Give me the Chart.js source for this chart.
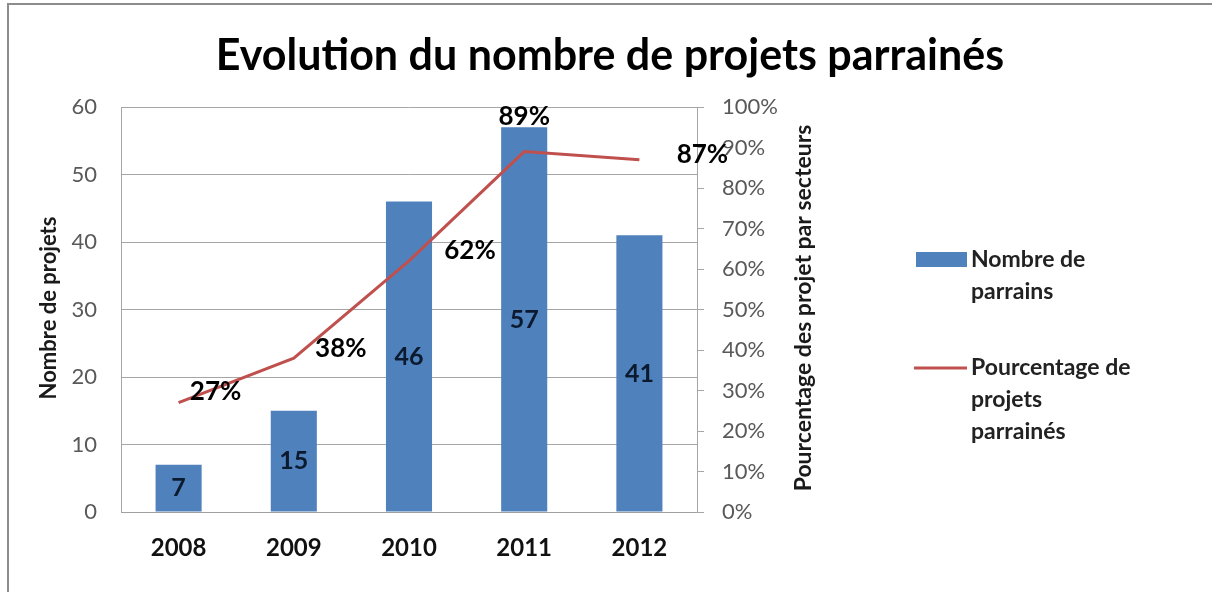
<!DOCTYPE html>
<html>
<head>
<meta charset="utf-8">
<script src="https://cdn.jsdelivr.net/npm/chart.js@4/dist/chart.umd.min.js"></script>
<style>
    html, body { margin: 0; padding: 0; background: #fff; }
    #wrap { position: relative; width: 1212px; height: 592px; }
</style>
</head>
<body>
<div id="wrap"><canvas id="chart" width="1212" height="592"></canvas></div>
<script>
// data
const years = ['2008', '2009', '2010', '2011', '2012'];
const nombreProjets = [7, 15, 46, 57, 41];
const pourcentages = [27, 38, 62, 89, 87];
const leftTicks = [0, 10, 20, 30, 40, 50, 60];
const rightTicks = [0, 10, 20, 30, 40, 50, 60, 70, 80, 90, 100];

const titleText = 'Evolution du nombre de projets parrainés';
const leftAxisTitle = 'Nombre de projets';
const rightAxisTitle = 'Pourcentage des projet par secteurs';
const legendBar = ['Nombre de', 'parrains'];
const legendLine = ['Pourcentage de', 'projets', 'parrainés'];

// label offsets for the percentage labels (px from the point)
const pctLabelOffset = [[37, -11], [47, -9], [61, -10], [0, -35], [63, -5]];

const FONT = 'Lato, "Open Sans", sans-serif';
const BLUE = '#4f81bd';
const RED = '#c0504d';

const decorPlugin = {
    id: 'decor',
    beforeDraw(chart) {
        const ctx = chart.ctx;
        ctx.save();
        ctx.fillStyle = '#fff';
        ctx.fillRect(0, 0, chart.width, chart.height);
        // frame
        ctx.strokeStyle = '#8c8c8c';
        ctx.lineWidth = 2;
        ctx.beginPath();
        ctx.moveTo(8, 592);
        ctx.lineTo(8, 4);
        ctx.lineTo(1212, 4);
        ctx.stroke();
        ctx.restore();
    },
    afterDraw(chart) {
        const ctx = chart.ctx;
        const x = chart.scales.x;
        const y = chart.scales.y;
        const y1 = chart.scales.y1;
        ctx.save();

        // title
        ctx.fillStyle = '#000';
        ctx.font = 'bold 43px ' + FONT;
        ctx.textAlign = 'center';
        ctx.textBaseline = 'middle';
        ctx.fillText(titleText, 610, 56);

        // axis titles
        ctx.font = 'bold 22px ' + FONT;
        ctx.fillStyle = '#1a1a1a';
        ctx.save();
        ctx.translate(49, 308);
        ctx.rotate(-Math.PI / 2);
        ctx.fillText(leftAxisTitle, 0, 0);
        ctx.restore();
        ctx.save();
        ctx.translate(804, 308);
        ctx.rotate(-Math.PI / 2);
        ctx.font = 'bold 23px ' + FONT;
        ctx.fillText(rightAxisTitle, 0, 0);
        ctx.restore();

        // bar value labels
        ctx.font = 'bold 25px ' + FONT;
        ctx.fillStyle = '#0b1a2e';
        nombreProjets.forEach((v, i) => {
            const cx = x.getPixelForValue(i);
            const cy = (y.getPixelForValue(v) + y.getPixelForValue(0)) / 2;
            ctx.fillText(String(v), cx, cy);
        });

        // percentage labels
        ctx.font = 'bold 26px ' + FONT;
        ctx.fillStyle = '#000';
        pourcentages.forEach((v, i) => {
            const px = x.getPixelForValue(i) + pctLabelOffset[i][0];
            const py = y1.getPixelForValue(v) + pctLabelOffset[i][1];
            ctx.fillText(v + '%', px, py);
        });

        // legend
        ctx.fillStyle = BLUE;
        ctx.fillRect(916, 252, 51, 15);
        ctx.strokeStyle = RED;
        ctx.lineWidth = 3;
        ctx.beginPath();
        ctx.moveTo(914, 368);
        ctx.lineTo(967, 368);
        ctx.stroke();
        ctx.font = 'bold 23px ' + FONT;
        ctx.fillStyle = '#222';
        ctx.textAlign = 'left';
        legendBar.forEach((t, i) => ctx.fillText(t, 971, 260 + i * 32));
        legendLine.forEach((t, i) => ctx.fillText(t, 971, 368 + i * 32));

        ctx.restore();
    }
};

new Chart(document.getElementById('chart'), {
    data: {
        labels: years,
        datasets: [
            {
                type: 'line',
                label: 'Pourcentage de projets parrainés',
                data: pourcentages,
                yAxisID: 'y1',
                borderColor: RED,
                borderWidth: 3,
                pointRadius: 0,
                tension: 0,
                order: 0
            },
            {
                type: 'bar',
                label: 'Nombre de parrains',
                data: nombreProjets,
                yAxisID: 'y',
                backgroundColor: BLUE,
                barPercentage: 0.4,
                categoryPercentage: 1,
                order: 1
            }
        ]
    },
    options: {
        responsive: false,
        animation: false,
        layout: { padding: { left: 30, right: 385, top: 107, bottom: 0 } },
        plugins: {
            legend: { display: false },
            title: { display: false },
            tooltip: { enabled: false }
        },
        scales: {
            x: {
                grid: { display: false, drawTicks: false },
                border: { color: '#a0a0a0', width: 1 },
                ticks: {
                    color: '#111',
                    font: { family: FONT, size: 24, weight: 'bold' },
                    padding: 22
                },
                afterFit: s => { s.height = 80; }
            },
            y: {
                position: 'left',
                min: 0,
                max: 60,
                afterBuildTicks: s => { s.ticks = leftTicks.map(v => ({ value: v })); },
                grid: { color: '#a6a6a6', drawTicks: false },
                border: { color: '#a6a6a6', width: 1 },
                ticks: {
                    color: '#595959',
                    font: { family: FONT, size: 22 },
                    padding: 24
                },
                afterFit: s => { s.width = 91; }
            },
            y1: {
                position: 'right',
                min: 0,
                max: 100,
                afterBuildTicks: s => { s.ticks = rightTicks.map(v => ({ value: v })); },
                grid: { drawOnChartArea: false, color: '#a6a6a6', tickLength: 7 },
                border: { color: '#a6a6a6', width: 1 },
                ticks: {
                    color: '#595959',
                    font: { family: FONT, size: 22 },
                    padding: 18,
                    callback: v => v + '%'
                },
                afterFit: s => { s.width = 130; }
            }
        }
    },
    plugins: [decorPlugin]
});
</script>
</body>
</html>
